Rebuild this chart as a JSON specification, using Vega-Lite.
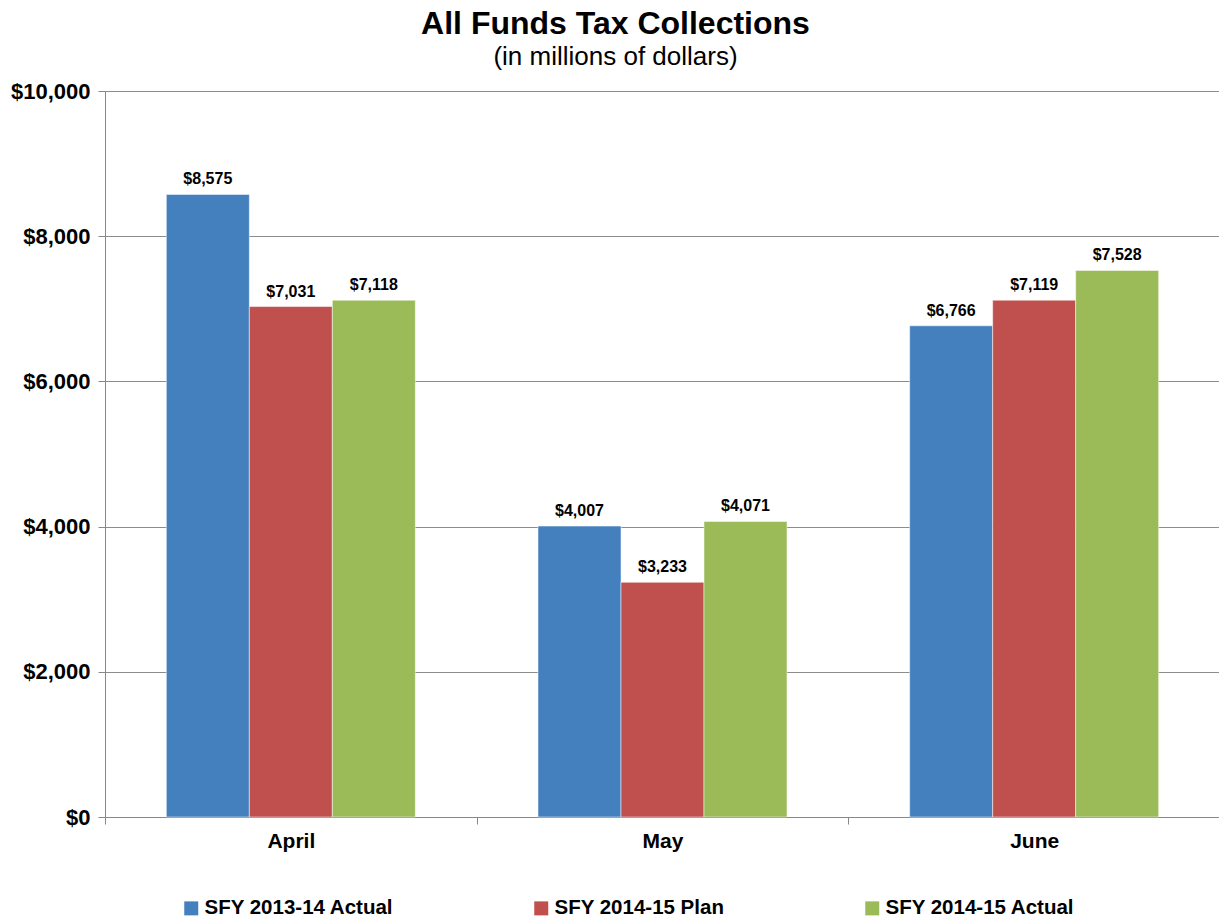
{
  "$schema": "https://vega.github.io/schema/vega-lite/v6.json",
  "width": 1115,
  "height": 726,
  "autosize": "none",
  "padding": {"left": 105, "top": 91, "right": 0, "bottom": 100},
  "background": "white",
  "title": {
    "text": "All Funds Tax Collections",
    "subtitle": "(in millions of dollars)",
    "font": "Liberation Sans",
    "fontSize": 32,
    "fontWeight": "bold",
    "color": "#000000",
    "subtitleFont": "Liberation Sans",
    "subtitleFontSize": 26,
    "subtitleColor": "#000000",
    "subtitlePadding": 3,
    "anchor": "middle",
    "frame": "bounds",
    "offset": 9
  },
  "data": {
    "values": [
      {"month": "April", "series": "SFY 2013-14 Actual", "value": 8575},
      {"month": "April", "series": "SFY 2014-15 Plan", "value": 7031},
      {"month": "April", "series": "SFY 2014-15 Actual", "value": 7118},
      {"month": "May", "series": "SFY 2013-14 Actual", "value": 4007},
      {"month": "May", "series": "SFY 2014-15 Plan", "value": 3233},
      {"month": "May", "series": "SFY 2014-15 Actual", "value": 4071},
      {"month": "June", "series": "SFY 2013-14 Actual", "value": 6766},
      {"month": "June", "series": "SFY 2014-15 Plan", "value": 7119},
      {"month": "June", "series": "SFY 2014-15 Actual", "value": 7528}
    ]
  },
  "encoding": {
    "x": {
      "field": "month",
      "type": "nominal",
      "sort": ["April", "May", "June"],
      "scale": {"paddingInner": 0, "paddingOuter": 0},
      "axis": {
        "title": null,
        "labelAngle": 0,
        "labelFont": "Liberation Sans",
        "labelFontSize": 21,
        "labelFontWeight": "bold",
        "labelColor": "#000000",
        "labelPadding": 6,
        "tickBand": "extent",
        "tickSize": 7,
        "tickColor": "#888888",
        "domainColor": "#888888",
        "grid": false
      }
    },
    "xOffset": {
      "field": "series",
      "type": "nominal",
      "sort": ["SFY 2013-14 Actual", "SFY 2014-15 Plan", "SFY 2014-15 Actual"],
      "scale": {"paddingInner": 0, "paddingOuter": 0.739}
    },
    "y": {
      "field": "value",
      "type": "quantitative",
      "scale": {"domain": [0, 10000], "nice": false},
      "axis": {
        "title": null,
        "values": [0, 2000, 4000, 6000, 8000, 10000],
        "format": "$,.0f",
        "labelFont": "Liberation Sans",
        "labelFontSize": 22,
        "labelFontWeight": "bold",
        "labelColor": "#000000",
        "labelPadding": 8,
        "tickSize": 7,
        "tickColor": "#888888",
        "domainColor": "#888888",
        "gridColor": "#8c8c8c",
        "grid": true
      }
    }
  },
  "layer": [
    {
      "mark": {"type": "bar", "stroke": "white", "strokeWidth": 0.5},
      "encoding": {
        "color": {
          "field": "series",
          "type": "nominal",
          "scale": {
            "domain": ["SFY 2013-14 Actual", "SFY 2014-15 Plan", "SFY 2014-15 Actual"],
            "range": ["#4480BE", "#C0504D", "#9BBB59"]
          },
          "legend": {
            "title": null,
            "orient": "none",
            "legendX": 76,
            "legendY": 807,
            "direction": "horizontal",
            "columns": 3,
            "columnPadding": 137,
            "padding": 0,
            "symbolType": "square",
            "symbolSize": 196,
            "symbolStrokeWidth": 0,
            "labelFont": "Liberation Sans",
            "labelFontSize": 20.5,
            "labelFontWeight": "bold",
            "labelColor": "#000000",
            "labelOffset": 3,
            "labelLimit": 400
          }
        }
      }
    },
    {
      "mark": {
        "type": "text",
        "font": "Liberation Sans",
        "fontSize": 16,
        "fontWeight": "bold",
        "color": "#000000",
        "baseline": "bottom",
        "dy": -7
      },
      "encoding": {
        "text": {"field": "value", "type": "quantitative", "format": "$,.0f"}
      }
    }
  ],
  "config": {
    "view": {"stroke": null}
  }
}
